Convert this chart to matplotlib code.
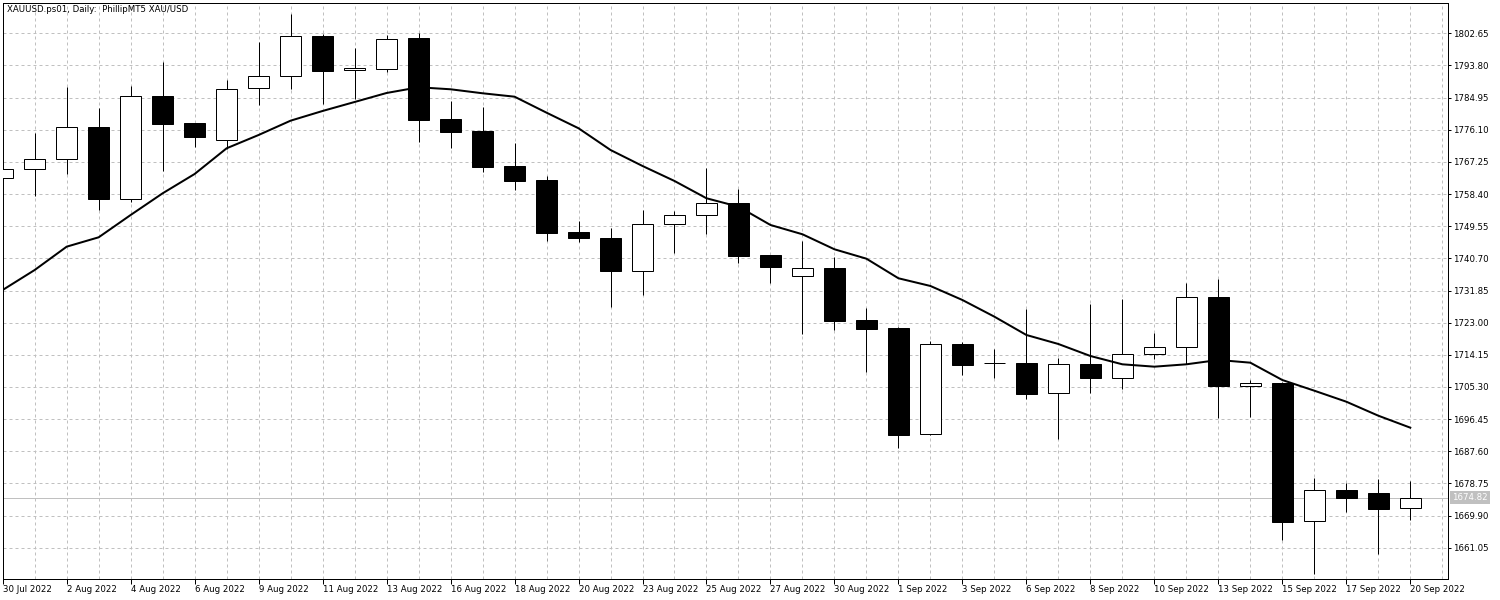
import matplotlib
matplotlib.use("Agg")
import matplotlib.pyplot as plt
import numpy as np

# ---------- data ----------

TITLE = "XAUUSD.ps01, Daily:  PhillipMT5 XAU/USD"

opens = [1762.74, 1765.22, 1767.97, 1776.78, 1757.13, 1785.48, 1777.88, 1773.20,
         1787.52, 1790.82, 1801.83, 1792.47, 1792.91, 1801.36, 1779.07, 1775.76,
         1766.13, 1762.27, 1747.96, 1746.31, 1737.31, 1750.08, 1752.56, 1755.94,
         1741.63, 1735.77, 1738.05, 1723.74, 1721.54, 1692.28, 1717.05, 1711.90,
         1711.82, 1703.56, 1711.54, 1707.69, 1714.30, 1716.22, 1729.99, 1705.66,
         1706.40, 1668.33, 1676.86, 1676.12, 1671.91]
highs = [1767.00, 1775.13, 1787.87, 1782.09, 1788.07, 1794.75, 1777.90, 1789.80,
         1800.26, 1807.88, 1802.46, 1798.53, 1802.10, 1802.74, 1784.02, 1782.37,
         1772.54, 1763.38, 1750.99, 1749.15, 1754.02, 1753.74, 1765.58, 1759.88,
         1741.63, 1745.48, 1741.00, 1727.04, 1721.90, 1717.88, 1717.68, 1715.76,
         1726.77, 1713.36, 1728.23, 1729.52, 1720.24, 1733.92, 1735.03, 1707.22,
         1706.76, 1680.25, 1678.96, 1679.89, 1679.42]
lows = [1760.00, 1757.95, 1764.01, 1754.02, 1756.22, 1764.67, 1771.36, 1770.73,
        1782.92, 1787.41, 1783.11, 1784.65, 1792.08, 1772.73, 1771.08, 1764.48,
        1759.52, 1745.48, 1745.21, 1727.40, 1730.62, 1742.18, 1747.49, 1739.51,
        1734.01, 1719.89, 1720.99, 1709.43, 1688.51, 1692.00, 1708.60, 1707.69,
        1702.08, 1691.07, 1703.73, 1704.66, 1713.09, 1711.54, 1696.85, 1697.04,
        1663.27, 1653.83, 1670.89, 1659.33, 1668.69]
closes = [1765.22, 1767.97, 1776.78, 1757.13, 1785.48, 1777.77, 1774.03, 1787.24,
          1790.82, 1801.83, 1792.36, 1793.02, 1801.00, 1778.87, 1775.57, 1765.94,
          1762.08, 1747.77, 1746.39, 1737.31, 1750.08, 1752.64, 1755.86, 1741.44,
          1738.41, 1737.97, 1723.55, 1721.34, 1692.17, 1717.05, 1711.44, 1711.82,
          1703.45, 1711.54, 1707.69, 1714.30, 1716.22, 1729.99, 1705.66, 1706.40,
          1668.22, 1676.86, 1674.83, 1671.80, 1674.82]
ma_values = [1732.00, 1737.50, 1743.92, 1746.50, 1752.64, 1758.61, 1763.93, 1771.00,
             1774.66, 1778.60, 1781.27, 1783.74, 1786.22, 1787.79, 1787.24, 1786.14,
             1785.20, 1780.80, 1776.51, 1770.53, 1766.13, 1762.00, 1757.24, 1754.93,
             1749.89, 1747.33, 1743.20, 1740.61, 1735.22, 1733.10, 1729.24, 1724.65,
             1719.61, 1717.13, 1713.83, 1711.54, 1710.89, 1711.54, 1712.73, 1711.99,
             1707.22, 1704.28, 1701.25, 1697.40, 1694.10]

date_labels = ["30 Jul 2022", "2 Aug 2022", "4 Aug 2022", "6 Aug 2022", "9 Aug 2022",
               "11 Aug 2022", "13 Aug 2022", "16 Aug 2022", "18 Aug 2022", "20 Aug 2022",
               "23 Aug 2022", "25 Aug 2022", "27 Aug 2022", "30 Aug 2022", "1 Sep 2022",
               "3 Sep 2022", "6 Sep 2022", "8 Sep 2022", "10 Sep 2022", "13 Sep 2022",
               "15 Sep 2022", "17 Sep 2022", "20 Sep 2022"]
price_ticks = [1802.65, 1793.80, 1784.95, 1776.10, 1767.25, 1758.40, 1749.55, 1740.70,
               1731.85, 1723.00, 1714.15, 1705.30, 1696.45, 1687.60, 1678.75, 1669.90,
               1661.05]
last_price = 1674.82

# ---------- plot ----------

PX = 0.72  # one pixel in points at dpi 100
FONT = 6.2
GRID_C = "#c0c0c0"

plt.rcParams.update({
    "font.family": "DejaVu Sans",
    "font.size": FONT,
})

fig = plt.figure(figsize=(15, 6), dpi=100, facecolor="white")
ax = fig.add_axes([2.7 / 1500, 21.3 / 600, 1445 / 1500, 576 / 600])

o = np.array(opens)
h = np.array(highs)
l = np.array(lows)
c = np.array(closes)
x = np.arange(len(o))
up = c >= o

ax.vlines(x, l, h, color="black", linewidth=PX, zorder=3)
ax.bar(x, np.abs(c - o), bottom=np.minimum(o, c), width=0.66,
       color=np.where(up, "white", "black"), edgecolor="black",
       linewidth=PX, zorder=4)
ax.plot(x, ma_values, color="black", linewidth=2 * PX, zorder=5,
        solid_joinstyle="round")

ax.axhline(last_price, color=GRID_C, linewidth=PX, zorder=2)

ax.set_xlim(0.0125, 45.17)
ax.set_ylim(1652.53, 1811.07)

# x axis: labels every 2 bars, grid every bar
ax.set_xticks(np.arange(0, len(o), 2))
ax.set_xticklabels(date_labels, ha="left")
ax.set_xticks(np.arange(1, 46, 2), minor=True)
ax.tick_params(axis="x", which="major", length=3.4, width=PX, pad=1.2,
               labelsize=FONT, color="black")
ax.tick_params(axis="x", which="minor", length=0)

ax.yaxis.tick_right()
ax.set_yticks(price_ticks)
ax.set_yticklabels([f"{p:.2f}" for p in price_ticks])
ax.tick_params(axis="y", which="major", length=2.2, width=PX, pad=1.5,
               labelsize=FONT, color="black")

ax.grid(True, which="both", axis="x", color=GRID_C, linewidth=PX,
        linestyle=(0, (3, 3)), zorder=0)
ax.grid(True, which="major", axis="y", color=GRID_C, linewidth=PX,
        linestyle=(0, (3, 3)), zorder=0)
ax.set_axisbelow(True)

for s in ax.spines.values():
    s.set_color("black")
    s.set_linewidth(PX)

ax.text(4 / 1445, 1 - 7 / 576, TITLE, transform=ax.transAxes,
        ha="left", va="center", fontsize=FONT, color="black")

# last price tag on the right scale
ax.text(1 + 4.5 / 1445, last_price, f"{last_price:.2f}",
        transform=ax.get_yaxis_transform(), ha="left", va="center",
        fontsize=FONT, color="white",
        bbox=dict(boxstyle="square,pad=0.25", facecolor=GRID_C, edgecolor="none"))

fig.savefig("out.png", dpi=100, facecolor="white")
